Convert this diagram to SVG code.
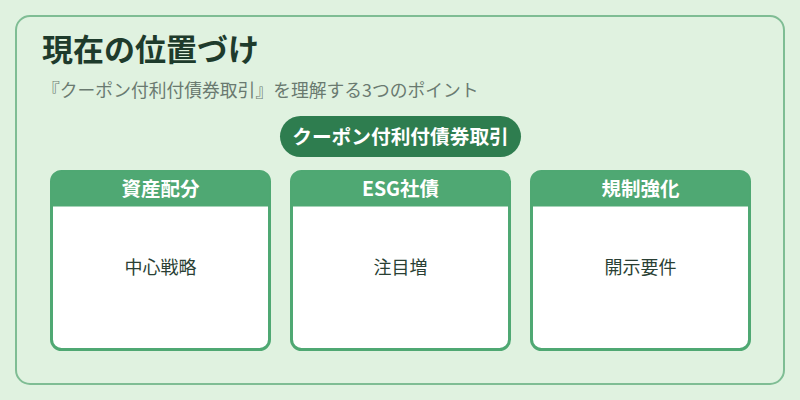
<svg xmlns="http://www.w3.org/2000/svg" width="800" height="400" viewBox="0 0 800 400">
<style>
.t{font-family:"Noto Sans CJK JP","Noto Sans",sans-serif}
.card{fill:#ffffff;stroke:#4fa873;stroke-width:3}
.hdr{fill:#4fa873}
.ht{font-size:19.5px;font-weight:700;fill:#ffffff;text-anchor:middle}
.bt{font-size:18px;fill:#2a3f34;text-anchor:middle}
</style>
<rect width="800" height="400" fill="#e0f2e0"/>
<rect x="16" y="16" width="768" height="368" rx="14" fill="#e0f2e0" stroke="#7fbd94" stroke-width="2"/>
<text class="t" x="42" y="61" font-size="31" font-weight="700" fill="#1e3b2c">現在の位置づけ</text>
<text class="t" x="42" y="97" font-size="17.8" fill="#6a7a70">『クーポン付利付債券取引』を理解する3つのポイント</text>
<g id="center">
<rect x="280" y="116" width="241" height="41" rx="20.5" fill="#2e7d4f"/>
<text class="t" x="400.5" y="144" font-size="19.7" font-weight="700" fill="#ffffff" text-anchor="middle">クーポン付利付債券取引</text>
</g>
<g id="connectors"></g>
<g id="card1">
<rect class="card" x="51.5" y="171.5" width="218" height="178" rx="10"/>
<path class="hdr" d="M51.5 206.5 V181.5 A10 10 0 0 1 61.5 171.5 H259.5 A10 10 0 0 1 269.5 181.5 V206.5 Z"/>
<text class="t ht" x="160.5" y="195.5">資産配分</text>
<text class="t bt" x="160.5" y="273.5">中心戦略</text>
</g>
<g id="card2">
<rect class="card" x="291.5" y="171.5" width="218" height="178" rx="10"/>
<path class="hdr" d="M291.5 206.5 V181.5 A10 10 0 0 1 301.5 171.5 H499.5 A10 10 0 0 1 509.5 181.5 V206.5 Z"/>
<text class="t ht" x="400.5" y="195.5">ESG社債</text>
<text class="t bt" x="400.5" y="273.5">注目増</text>
</g>
<g id="card3">
<rect class="card" x="531.5" y="171.5" width="218" height="178" rx="10"/>
<path class="hdr" d="M531.5 206.5 V181.5 A10 10 0 0 1 541.5 171.5 H739.5 A10 10 0 0 1 749.5 181.5 V206.5 Z"/>
<text class="t ht" x="640.5" y="195.5">規制強化</text>
<text class="t bt" x="640.5" y="273.5">開示要件</text>
</g>
</svg>
